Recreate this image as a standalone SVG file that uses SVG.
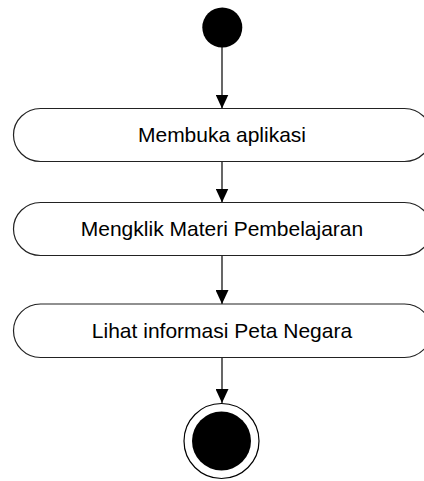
<svg xmlns="http://www.w3.org/2000/svg" width="424" height="481" viewBox="0 0 424 481">
<style>
.act{fill:#fff;stroke:#222;stroke-width:1.2}
.lbl{font-family:"Liberation Sans",Arial,sans-serif;font-size:21px;fill:#000;text-anchor:middle}
.edge{stroke:#000;stroke-width:1.2;fill:none}
</style>
<defs>
<marker id="arr" viewBox="0 0 14 13" refX="14" refY="6.5" markerWidth="14" markerHeight="13" markerUnits="userSpaceOnUse" orient="auto">
<path d="M0,0 L14,6.5 L0,13 Z" fill="#000"/>
</marker>
</defs>
<rect width="424" height="481" fill="#fff"/>
<g id="edges">
<line class="edge" x1="222" y1="47" x2="222" y2="108.5" marker-end="url(#arr)"/>
<line class="edge" x1="222" y1="161.5" x2="222" y2="202.5" marker-end="url(#arr)"/>
<line class="edge" x1="222" y1="255.5" x2="222" y2="304" marker-end="url(#arr)"/>
<line class="edge" x1="222" y1="357.5" x2="222" y2="403" marker-end="url(#arr)"/>
</g>
<g id="start">
<circle cx="222.3" cy="27.5" r="20" fill="#000"/>
</g>
<g id="a1">
<rect class="act" x="13.5" y="108.5" width="418" height="53" rx="27" ry="26.5"/>
<text class="lbl" x="222" y="142">Membuka aplikasi</text>
</g>
<g id="a2">
<rect class="act" x="13.5" y="202.5" width="418" height="53" rx="27" ry="26.5"/>
<text class="lbl" x="222" y="236">Mengklik Materi Pembelajaran</text>
</g>
<g id="a3">
<rect class="act" x="13.5" y="304" width="418" height="53.5" rx="27" ry="26.75"/>
<text class="lbl" x="222" y="338">Lihat informasi Peta Negara</text>
</g>
<g id="end">
<circle cx="221.5" cy="441" r="37.5" fill="#fff" stroke="#000" stroke-width="1.2"/>
<circle cx="221.5" cy="441" r="29.5" fill="#000"/>
</g>
</svg>
